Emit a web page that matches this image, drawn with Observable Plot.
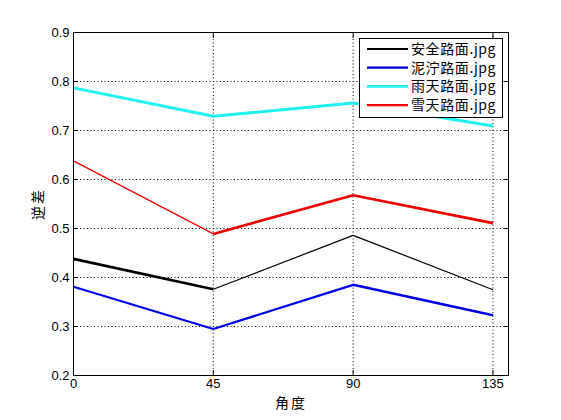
<!DOCTYPE html>
<html><head><meta charset="utf-8">
<script src="https://cdn.jsdelivr.net/npm/d3@7"></script>
<script src="https://cdn.jsdelivr.net/npm/@observablehq/plot@0.6"></script>
<style>
body{margin:0;background:#fff;}
#chart{position:relative;width:561px;height:420px;}
</style>
</head><body><div id="chart"></div>
<script>
const angles = [0, 45, 90, 135];
const seriesNames = ["安全路面.jpg", "泥泞路面.jpg", "雨天路面.jpg", "雪天路面.jpg"];
const safeVals = [0.438, 0.376, 0.486, 0.375];
const mudVals = [0.381, 0.295, 0.385, 0.323];
const rainVals = [0.787, 0.729, 0.756, 0.709];
const snowVals = [0.638, 0.489, 0.568, 0.511];
const xTicks = [0, 45, 90, 135];
const yTicks = [0.2, 0.3, 0.4, 0.5, 0.6, 0.7, 0.8, 0.9];

const colors = ["#000000", "#0000e6", "#22f0f0", "#ee0000"];
const segWidths = [[2.6, 1.2, 1.2], [2.2, 2.2, 2.6], [3, 3, 3], [1.2, 2.6, 2.6]];
const legendWidths = [2.2, 2.2, 2.6, 2.2];

const allVals = [safeVals, mudVals, rainVals, snowVals];
const segs = [];
allVals.forEach((vals, s) => {
  for (let i = 0; i < angles.length - 1; i++) {
    segs.push({s, x1: angles[i], y1: vals[i], x2: angles[i + 1], y2: vals[i + 1], w: segWidths[s][i]});
  }
});

const font = "'Liberation Sans', Arial, 'Noto Sans CJK SC', sans-serif";
const plot = Plot.plot({
  width: 561, height: 420,
  marginLeft: 73, marginRight: 53, marginTop: 32, marginBottom: 45,
  style: {fontFamily: font, fontSize: "13px", color: "#000", background: "#fff", overflow: "visible"},
  x: {domain: [0, 140], ticks: xTicks},
  y: {domain: [0.2, 0.9], ticks: yTicks},
  marks: [
    Plot.gridX(xTicks.slice(1), {stroke: "#000", strokeOpacity: 1, strokeDasharray: "1,2.5", strokeWidth: 1}),
    Plot.gridY(yTicks.slice(1, -1), {stroke: "#000", strokeOpacity: 1, strokeDasharray: "1,2.5", strokeWidth: 1}),
    Plot.axisX({ticks: xTicks, tickSize: 0, tickPadding: 3, tickFormat: d => String(d), label: "角度", labelAnchor: "center", labelArrow: "none", labelOffset: 32, fontSize: 13}),
    Plot.axisY({ticks: yTicks, tickSize: 0, tickPadding: 4, tickFormat: d3.format(".1f"), label: "逆差", labelAnchor: "center", labelArrow: "none", labelOffset: 40, fontSize: 13}),
    Plot.axisX({ticks: xTicks, tickSize: 5, dy: -5, text: null, label: null}),
    Plot.axisX({anchor: "top", ticks: xTicks, tickSize: 5, dy: 5, text: null, label: null}),
    Plot.axisY({ticks: yTicks, tickSize: 5, dx: 5, text: null, label: null}),
    Plot.axisY({anchor: "right", ticks: yTicks, tickSize: 5, dx: -5, text: null, label: null}),
    Plot.link(segs, {x1: "x1", y1: "y1", x2: "x2", y2: "y2", stroke: d => colors[d.s], strokeWidth: "w", strokeLinecap: "butt"}),
    Plot.frame({stroke: "#000", strokeWidth: 1})
  ]
});
document.getElementById("chart").appendChild(plot);

const svg = d3.select(plot);
svg.selectAll("g[aria-label='x-axis label'] text, g[aria-label='y-axis label'] text")
  .attr("font-size", 14).attr("letter-spacing", 2)
  .attr("font-family", "'Noto Sans CJK SC', sans-serif");

// legend
const lg = svg.append("g");
lg.append("rect").attr("x", 359.5).attr("y", 38.5).attr("width", 143).attr("height", 79)
  .attr("fill", "#fff").attr("stroke", "#000").attr("stroke-width", 1);
seriesNames.forEach((name, i) => {
  const y = 49 + i * 18.7;
  lg.append("line").attr("x1", 367).attr("x2", 408).attr("y1", y).attr("y2", y)
    .attr("stroke", colors[i]).attr("stroke-width", legendWidths[i]);
  lg.append("text").attr("x", 411).attr("y", y).attr("dy", "0.36em")
    .attr("text-anchor", "start")
    .attr("font-family", "'Noto Sans CJK SC', 'Liberation Sans', sans-serif")
    .attr("font-size", 14).attr("letter-spacing", 0.6).attr("fill", "#000").text(name);
});
</script></body></html>
